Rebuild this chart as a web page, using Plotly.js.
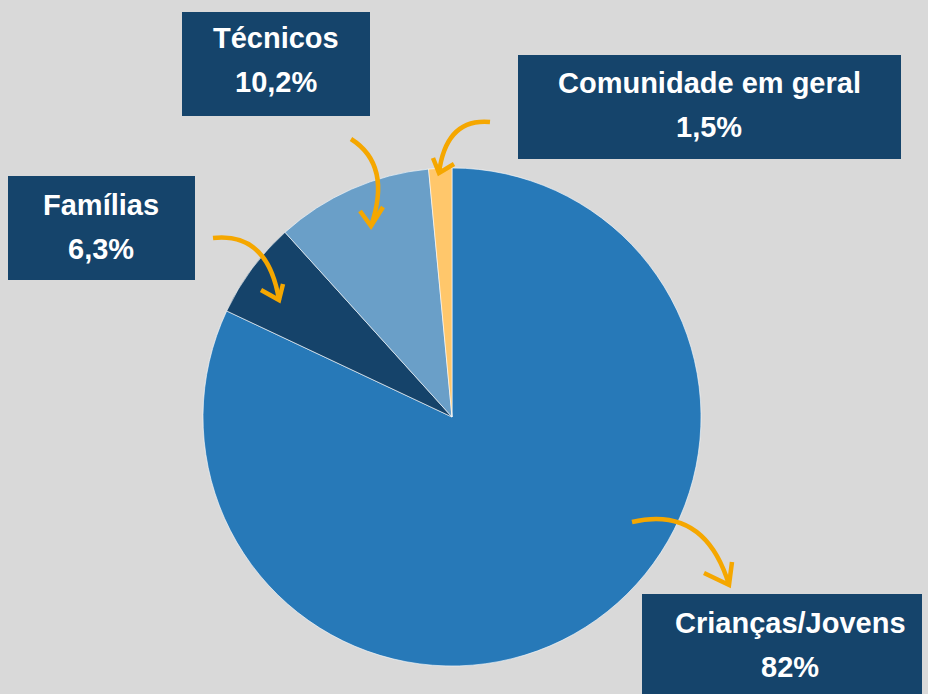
<!DOCTYPE html>
<html>
<head>
<meta charset="utf-8">
<script src="https://cdn.plot.ly/plotly-3.0.1.min.js"></script>
<style>html,body{margin:0;padding:0;background:#d9d9d9;}</style>
</head>
<body>
<div id="chart" style="width:928px;height:694px;"></div>
<script>
const categories = ["Crianças/Jovens", "Famílias", "Técnicos", "Comunidade em geral"];
const values = [82, 6.3, 10.2, 1.5];
const valueLabels = ["82%", "6,3%", "10,2%", "1,5%"];
const sliceColors = ["#2779b8", "#15436a", "#6a9fc8", "#ffc76b"];

const W = 928, H = 694;
const px = x => x / W;
const py = y => 1 - y / H;

// label boxes (pixel layout)
const boxes = [
  {x0: 642, y0: 594, x1: 922, y1: 700, tx: 790, ty: 645},
  {x0: 8, y0: 176, x1: 195, y1: 280, tx: 101, ty: 227},
  {x0: 182, y0: 12, x1: 370, y1: 116, tx: 276, ty: 60},
  {x0: 518, y0: 55, x1: 901, y1: 159, tx: 709, ty: 105}
];
// curved arrows: start, control, tip, barbs
const arrows = [
  {s:[632,522], c:[705,505], t:[729,585], b1:[704,573], b2:[732,562]},
  {s:[213,238], c:[268,232], t:[279,300], b1:[261,290], b2:[283,284]},
  {s:[351,139], c:[392,165], t:[371,226], b1:[360,211], b2:[383,207]},
  {s:[490,122], c:[446,118], t:[439,173], b1:[433,158], b2:[454,164]}
];

function P(p){ return px(p[0]) + "," + py(p[1]); }

const labelFont = {family: "Liberation Sans, Arial, sans-serif", size: 29, color: "#ffffff", weight: 700};
const shapes = [];
const annotations = [];
boxes.forEach((b, i) => {
  shapes.push({type: "rect", xref: "paper", yref: "paper",
    x0: px(b.x0), x1: px(b.x1), y0: py(b.y1), y1: py(b.y0),
    fillcolor: "#15446b", line: {width: 0}, layer: "above"});
  annotations.push({xref: "paper", yref: "paper", x: px(b.tx), y: py(b.ty - 22),
    xanchor: "center", yanchor: "middle", showarrow: false,
    text: categories[i], font: labelFont});
  annotations.push({xref: "paper", yref: "paper", x: px(b.tx), y: py(b.ty + 22),
    xanchor: "center", yanchor: "middle", showarrow: false,
    text: valueLabels[i], font: labelFont});
});
arrows.forEach(a => {
  shapes.push({type: "path", xref: "paper", yref: "paper",
    path: "M" + P(a.s) + " Q" + P(a.c) + " " + P(a.t),
    line: {color: "#f5a700", width: 4.5}, layer: "above"});
  shapes.push({type: "path", xref: "paper", yref: "paper",
    path: "M" + P(a.b1) + " L" + P(a.t) + " L" + P(a.b2),
    line: {color: "#f5a700", width: 4.5}, layer: "above"});
});

const cx = 452, cy = 417, r = 249;
const data = [{
  type: "pie",
  labels: categories,
  values: values,
  sort: false,
  direction: "clockwise",
  rotation: 0,
  textinfo: "none",
  hoverinfo: "label+percent",
  marker: {colors: sliceColors, line: {color: "#ffffff", width: 0.6}},
  domain: {x: [px(cx - r), px(cx + r)], y: [py(cy + r), py(cy - r)]},
  showlegend: false
}];

const layout = {
  width: W, height: H,
  margin: {l: 0, r: 0, t: 0, b: 0},
  paper_bgcolor: "#d9d9d9",
  plot_bgcolor: "#d9d9d9",
  showlegend: false,
  shapes: shapes,
  annotations: annotations
};
Plotly.newPlot("chart", data, layout, {displayModeBar: false, staticPlot: true});
</script>
</body>
</html>
